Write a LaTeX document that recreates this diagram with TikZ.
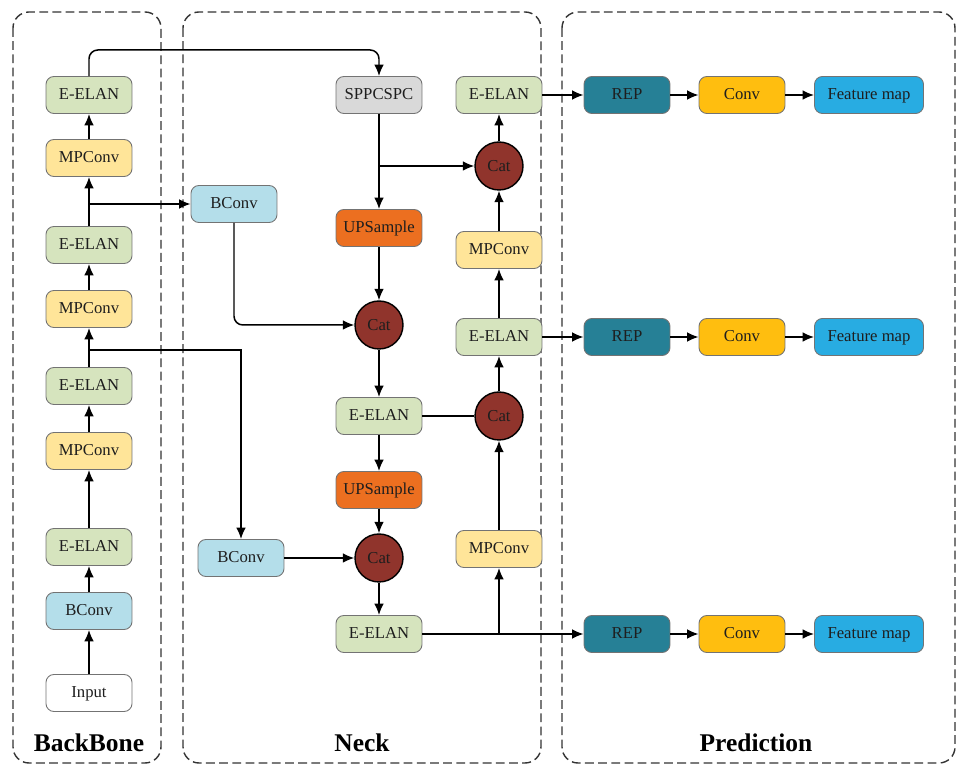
\documentclass[tikz,border=0pt]{standalone}
\usepackage{fontspec}
\setmainfont{Liberation Serif}
\usetikzlibrary{arrows.meta}
\definecolor{cEE}{RGB}{214,228,190}
\definecolor{cMP}{RGB}{255,229,153}
\definecolor{cBC}{RGB}{180,222,234}
\definecolor{cSP}{RGB}{217,217,217}
\definecolor{cUP}{RGB}{236,111,32}
\definecolor{cCat}{RGB}{144,52,44}
\definecolor{cREP}{RGB}{38,128,150}
\definecolor{cConv}{RGB}{255,190,15}
\definecolor{cFM}{RGB}{40,172,226}
\definecolor{cBorder}{RGB}{115,115,115}
\definecolor{cText}{RGB}{30,30,30}
\tikzset{
  x=0.02cm, y=-0.02cm,
  blk/.style={draw=cBorder, line width=0.5pt, rounded corners=4.5pt, minimum width=1.72cm, minimum height=0.74cm, inner sep=1pt, text height=1.55ex, text depth=0.35ex, font=\fontsize{9.5}{11}\selectfont, text=cText},
  ee/.style={blk, fill=cEE},
  mp/.style={blk, fill=cMP},
  bc/.style={blk, fill=cBC},
  sp/.style={blk, fill=cSP},
  up/.style={blk, fill=cUP},
  rep/.style={blk, fill=cREP},
  cv/.style={blk, fill=cConv},
  fm/.style={blk, fill=cFM, minimum width=2.18cm},
  inp/.style={blk, fill=white},
  cat/.style={circle, draw=black, line width=0.8pt, fill=cCat, minimum size=0.96cm, inner sep=0pt, font=\fontsize{9.5}{11}\selectfont, text=cText},
  arr/.style={draw=black, line width=0.85pt, -{Latex[length=6.5pt,width=5.5pt]}},
  ln/.style={draw=black, line width=0.85pt},
  dashbox/.style={draw=black!80, line width=0.8pt, dash pattern=on 5pt off 2.5pt, rounded corners=0.32cm},
  title/.style={font=\fontsize{14.5}{16}\selectfont\bfseries, text=black}
}
\begin{document}
\begin{tikzpicture}
\useasboundingbox (0,0) rectangle (958,766);
% group boxes
\draw[dashbox] (13,12) rectangle (161,763);
\draw[dashbox] (183,12) rectangle (541,763);
\draw[dashbox] (562,12) rectangle (955,763);
\node[title] (tbb) at (89,743) {BackBone};
\node[title] (tnk) at (362,743) {Neck};
\node[title] (tpr) at (756,743) {Prediction};
% backbone
\node[inp] (input) at (89,693) {Input};
\node[bc] (bb1) at (89,611) {BConv};
\node[ee] (ee1) at (89,547) {E-ELAN};
\node[mp] (mp1) at (89,451) {MPConv};
\node[ee] (ee2) at (89,386) {E-ELAN};
\node[mp] (mp2) at (89,309) {MPConv};
\node[ee] (ee3) at (89,245) {E-ELAN};
\node[mp] (mp3) at (89,158) {MPConv};
\node[ee] (ee4) at (89,95) {E-ELAN};
% neck
\node[bc] (nbc1) at (234,204) {BConv};
\node[bc] (nbc2) at (241,558) {BConv};
\node[sp] (spp) at (379,95) {SPPCSPC};
\node[up] (up1) at (379,228) {UPSample};
\node[cat] (cat1) at (379,325) {Cat};
\node[ee] (ee5) at (379,416) {E-ELAN};
\node[up] (up2) at (379,490) {UPSample};
\node[cat] (cat2) at (379,558) {Cat};
\node[ee] (ee6) at (379,634) {E-ELAN};
\node[ee] (ee7) at (499,95) {E-ELAN};
\node[cat] (cat3) at (499,166) {Cat};
\node[mp] (mp4) at (499,250) {MPConv};
\node[ee] (ee8) at (499,337) {E-ELAN};
\node[cat] (cat4) at (499,416) {Cat};
\node[mp] (mp5) at (499,549) {MPConv};
% prediction
\node[rep] (rep1) at (627,95) {REP};
\node[cv] (cv1) at (742,95) {Conv};
\node[fm] (fm1) at (869,95) {Feature map};
\node[rep] (rep2) at (627,337) {REP};
\node[cv] (cv2) at (742,337) {Conv};
\node[fm] (fm2) at (869,337) {Feature map};
\node[rep] (rep3) at (627,634) {REP};
\node[cv] (cv3) at (742,634) {Conv};
\node[fm] (fm3) at (869,634) {Feature map};
\coordinate (topy) at (0,50);
\coordinate (br2) at (0,350);
% backbone chain
\draw[arr] (input) -- (bb1);
\draw[arr] (bb1) -- (ee1);
\draw[arr] (ee1) -- (mp1);
\draw[arr] (mp1) -- (ee2);
\draw[arr] (ee2) -- (mp2);
\draw[arr] (mp2) -- (ee3);
\draw[arr] (ee3) -- (mp3);
\draw[arr] (mp3) -- (ee4);
% backbone to neck
\draw[arr, rounded corners=5pt] (ee4.north) -- (ee4.north |- topy) -- (spp.north |- topy) -- (spp.north);
\draw[arr] (ee3.north |- nbc1) -- (nbc1.west);
\draw[arr] (mp2.south |- br2) -- (nbc2.north |- br2) -- (nbc2.north);
% neck
\draw[arr, rounded corners=5pt] (nbc1.south) |- (cat1.west);
\draw[arr] (spp) -- (up1);
\draw[arr] (spp.south |- cat3) -- (cat3.west);
\draw[arr] (up1) -- (cat1);
\draw[arr] (cat1) -- (ee5);
\draw[ln] (ee5.east) -- (cat4.west);
\draw[arr] (ee5) -- (up2);
\draw[arr] (up2) -- (cat2);
\draw[arr] (nbc2.east) -- (cat2.west);
\draw[arr] (cat2) -- (ee6);
\draw[arr] (ee6.east) -- (rep3.west);
\draw[arr] (mp5.south |- ee6) -- (mp5.south);
\draw[arr] (mp5) -- (cat4);
\draw[arr] (cat4) -- (ee8);
\draw[arr] (ee8) -- (mp4);
\draw[arr] (mp4) -- (cat3);
\draw[arr] (cat3) -- (ee7);
% to prediction
\draw[arr] (ee7) -- (rep1);
\draw[arr] (ee8) -- (rep2);
\draw[arr] (rep1) -- (cv1);
\draw[arr] (cv1) -- (fm1);
\draw[arr] (rep2) -- (cv2);
\draw[arr] (cv2) -- (fm2);
\draw[arr] (rep3) -- (cv3);
\draw[arr] (cv3) -- (fm3);
\end{tikzpicture}
\end{document}
